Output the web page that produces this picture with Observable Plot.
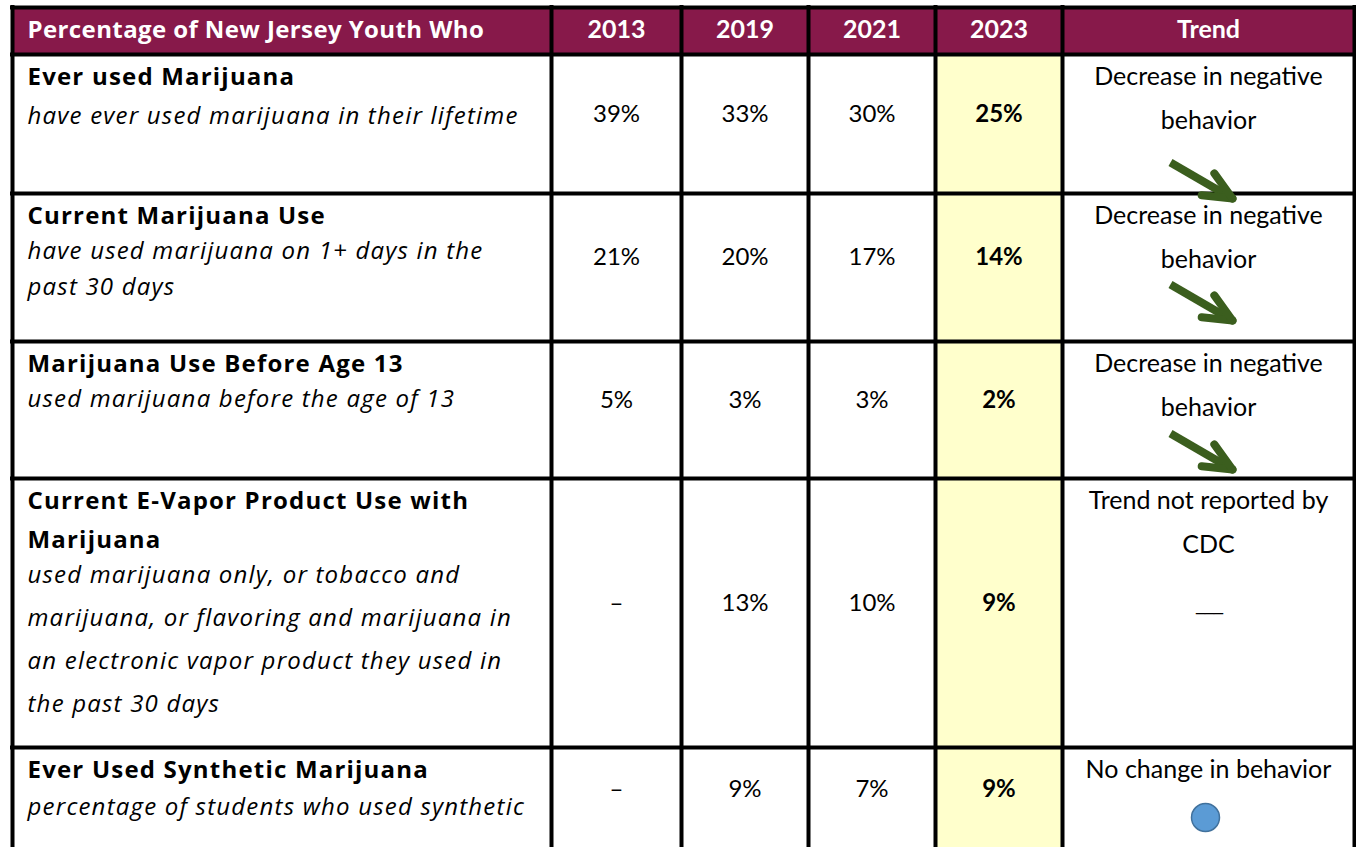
<!DOCTYPE html>
<html>
<head>
<meta charset="utf-8">
<script src="https://cdn.jsdelivr.net/npm/d3@7"></script>
<script src="https://cdn.jsdelivr.net/npm/@observablehq/plot@0.6"></script>
<style>
  html, body { margin: 0; padding: 0; background: #ffffff; overflow: hidden; }
  #chart svg { display: block; }
</style>
</head>
<body>
<div id="chart"></div>
<script>
// ---------------- DATA ----------------
const headerLabel = "Percentage of New Jersey Youth Who";
const years = ["2013", "2019", "2021", "2023"];
const trendHeader = "Trend";

const titles = [
  "Ever used Marijuana",
  "Current Marijuana Use",
  "Marijuana Use Before Age 13",
  "Current E-Vapor Product Use with\nMarijuana",
  "Ever Used Synthetic Marijuana"
];
const descriptions = [
  "have ever used marijuana in their lifetime",
  "have used marijuana on 1+ days in the\npast 30 days",
  "used marijuana before the age of 13",
  "used marijuana only, or tobacco and\nmarijuana, or flavoring and marijuana in\nan electronic vapor product they used in\nthe past 30 days",
  "percentage of students who used synthetic"
];
const values2013 = [39, 21, 5, null, null];
const values2019 = [33, 20, 3, 13, 9];
const values2021 = [30, 17, 3, 10, 7];
const values2023 = [25, 14, 2, 9, 9];
const trendTexts = [
  "Decrease in negative\nbehavior",
  "Decrease in negative\nbehavior",
  "Decrease in negative\nbehavior",
  "Trend not reported by\nCDC",
  "No change in behavior"
];
const trendSymbols = ["down", "down", "down", "none", "same"];

// ---------------- LAYOUT / STYLE ----------------
const W = 1356, H = 847;
const colEdges = [12, 551, 681, 808, 935, 1062, 1354];
const rowEdges = [7, 54, 193, 341, 478, 747, 851];
const LATO = "Lato, 'Open Sans', sans-serif";
const OPEN = "'Open Sans', 'Noto Sans', sans-serif";
const titleGap = 39, trendGap = 44;
const descLead = [39, 35, 35, 35, 37];
const descGap = [43, 36, 36, 43, 43];
const arrowDrop = [42, 25, 26];
const maroon = "#87194a", yellow = "#ffffcc", green = "#3b5e1e";

// ---------------- DERIVED TABLES ----------------
const valueCols = [values2013, values2019, values2021, values2023];
const fmt = v => v == null ? "\u2013" : `${v}%`;
const nRows = titles.length;
const rowTop = i => rowEdges[i + 1];
const rowBot = i => rowEdges[i + 2];
const colMid = c => (colEdges[c] + colEdges[c + 1]) / 2;
const valueY = i => (rowTop(i) + rowBot(i)) / 2 - 10;

const headerCells = d3.range(colEdges.length - 1).map(c => ({
  x1: colEdges[c], x2: colEdges[c + 1], y1: rowEdges[0], y2: rowEdges[1]
}));
const yellowCells = d3.range(nRows).map(i => ({
  x1: colEdges[4], x2: colEdges[5], y1: rowTop(i), y2: rowBot(i)
}));
const headerY = (rowEdges[0] + rowEdges[1]) / 2 - 1;
const headerTexts = years.map((y, k) => ({x: colMid(k + 1), y: headerY, text: y}))
  .concat([{x: colMid(5), y: headerY, text: trendHeader}]);

const titleLines = titles.flatMap((t, i) => t.split("\n").map((s, j) => ({
  x: colEdges[0] + 15, y: rowTop(i) + 23 + j * titleGap, text: s
})));
const descLines = descriptions.flatMap((t, i) => {
  const nT = titles[i].split("\n").length;
  const start = rowTop(i) + 23 + (nT - 1) * titleGap + descLead[i];
  return t.split("\n").map((s, j) => ({x: colEdges[0] + 15, y: start + j * descGap[i], text: s}));
});
const valueCells = valueCols.flatMap((col, c) => col.map((v, i) => ({
  x: colMid(c + 1), y: valueY(i), text: fmt(v), bold: c === 3
})));
const trendLines = trendTexts.flatMap((t, i) => t.split("\n").map((s, j) => ({
  x: colMid(5), y: rowTop(i) + 22 + j * trendGap, text: s
})));

// arrows (down trend): shaft + two barbs computed from its direction
const arrows = [];
trendSymbols.forEach((s, i) => {
  if (s !== "down") return;
  const n = trendTexts[i].split("\n").length;
  const lastLine = rowTop(i) + 22 + (n - 1) * trendGap;
  const x1 = colMid(5) - 38, y1 = lastLine + arrowDrop[i];
  const x2 = x1 + 62, y2 = y1 + 36;
  arrows.push({x1, y1, x2, y2, kind: "shaft"});
  const ang = Math.atan2(y2 - y1, x2 - x1) + Math.PI;
  const half = 24 * Math.PI / 180, L = 31;
  for (const a of [ang - half, ang + half]) {
    arrows.push({x1: x2, y1: y2, x2: x2 + L * Math.cos(a), y2: y2 + L * Math.sin(a), kind: "barb"});
  }
});
const sameDots = trendSymbols.map((s, i) => ({s, i})).filter(d => d.s === "same")
  .map(d => ({x: colMid(5) - 3, y: rowTop(d.i) + 70}));
const noneDashes = trendSymbols.map((s, i) => ({s, i})).filter(d => d.s === "none")
  .map(d => ({x: colMid(5), y: valueY(d.i), text: "___"}));

const vLines = colEdges.map(x => ({x, y1: rowEdges[0], y2: H + 10}));
const hLines = rowEdges.slice(0, 6).map(y => ({y, x1: colEdges[0], x2: colEdges[6]}));

// ---------------- PLOT ----------------
const chart = Plot.plot({
  width: W, height: H, margin: 0,
  x: {type: "linear", domain: [0, W], range: [0, W], axis: null},
  y: {type: "linear", domain: [0, H], range: [0, H], axis: null},
  style: {fontFamily: LATO, background: "#ffffff", overflow: "hidden"},
  marks: [
    Plot.rect(headerCells, {x1: "x1", x2: "x2", y1: "y1", y2: "y2", fill: maroon}),
    Plot.rect(yellowCells, {x1: "x1", x2: "x2", y1: "y1", y2: "y2", fill: yellow}),
    Plot.ruleX(vLines, {x: "x", y1: "y1", y2: "y2", stroke: "#000", strokeWidth: 4, strokeLinecap: "square"}),
    Plot.ruleY(hLines, {y: "y", x1: "x1", x2: "x2", stroke: "#000", strokeWidth: 4, strokeLinecap: "square"}),
    Plot.text([{x: colEdges[0] + 15, y: headerY, text: headerLabel}], {
      x: "x", y: "y", text: "text", textAnchor: "start", lineAnchor: "middle",
      fill: "#ffffff", fontWeight: "bold", fontSize: 24, fontFamily: OPEN
    }),
    Plot.text(headerTexts, {
      x: "x", y: "y", text: "text", textAnchor: "middle", lineAnchor: "middle",
      fill: "#ffffff", fontWeight: "bold", fontSize: 25, fontFamily: LATO
    }),
    Plot.text(titleLines, {
      x: "x", y: "y", text: "text", textAnchor: "start", lineAnchor: "middle",
      fill: "#000", fontWeight: "bold", fontSize: 24, fontFamily: OPEN
    }),
    Plot.text(descLines, {
      x: "x", y: "y", text: "text", textAnchor: "start", lineAnchor: "middle",
      fill: "#000", fontStyle: "italic", fontSize: 24, fontFamily: OPEN
    }),
    Plot.text(valueCells.filter(d => !d.bold), {
      x: "x", y: "y", text: "text", textAnchor: "middle", lineAnchor: "middle",
      fill: "#000", fontSize: 24, fontFamily: LATO
    }),
    Plot.text(valueCells.filter(d => d.bold), {
      x: "x", y: "y", text: "text", textAnchor: "middle", lineAnchor: "middle",
      fill: "#000", fontWeight: "bold", fontSize: 24, fontFamily: LATO
    }),
    Plot.text(trendLines, {
      x: "x", y: "y", text: "text", textAnchor: "middle", lineAnchor: "middle",
      fill: "#000", fontSize: 25, fontFamily: LATO
    }),
    Plot.text(noneDashes, {
      x: "x", y: "y", text: "text", textAnchor: "middle", lineAnchor: "middle",
      fill: "#000", fontSize: 24, fontFamily: LATO
    }),
    Plot.link(arrows.filter(d => d.kind === "shaft"), {
      x1: "x1", y1: "y1", x2: "x2", y2: "y2", stroke: green, strokeWidth: 8, strokeLinecap: "butt"
    }),
    Plot.link(arrows.filter(d => d.kind === "barb"), {
      x1: "x1", y1: "y1", x2: "x2", y2: "y2", stroke: green, strokeWidth: 8, strokeLinecap: "round"
    }),
    Plot.dot(sameDots, {x: "x", y: "y", r: 14, fill: "#5b9bd5", stroke: "#41719c", strokeWidth: 1.5})
  ]
});
document.getElementById("chart").appendChild(chart);

// letter spacing tweaks (to approximate the reference's wider label typeface)
const spacing = new Map();
titleLines.forEach(d => spacing.set(d.text, 1.2));
descLines.forEach(d => spacing.set(d.text, 1.2));
spacing.set(headerLabel, 0.4);
noneDashes.forEach(d => spacing.set(d.text, -2));
d3.select(chart).selectAll("text").each(function () {
  const s = spacing.get(this.textContent);
  if (s != null) this.setAttribute("letter-spacing", s);
});
</script>
</body>
</html>
